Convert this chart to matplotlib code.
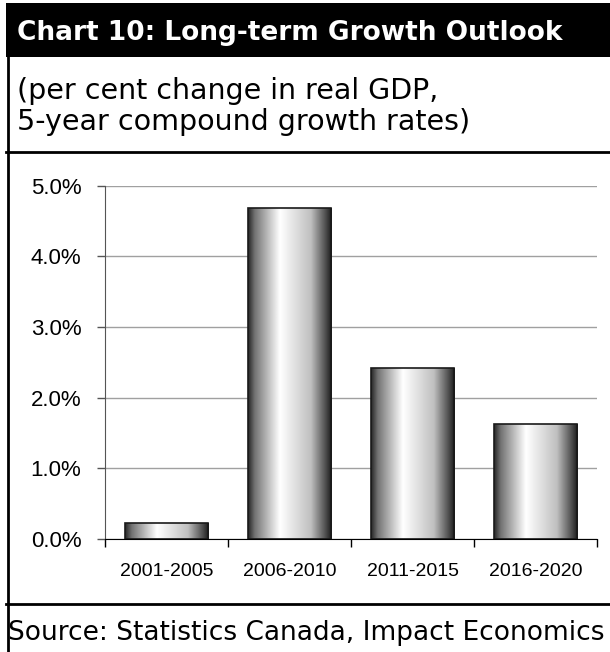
import numpy as np
import matplotlib.pyplot as plt
from matplotlib.lines import Line2D
from matplotlib.patches import Rectangle
from matplotlib.ticker import FuncFormatter

periods = ["2001-2005", "2006-2010", "2011-2015", "2016-2020"]
growth = [0.22, 4.69, 2.42, 1.63]  # per cent
yticks = [0, 1, 2, 3, 4, 5]

W, H = 610, 652
fig = plt.figure(figsize=(W / 100, H / 100), dpi=100)

def fx(px):
    return px / W

def fy(py):
    return 1 - py / H

# header band
fig.patches.append(Rectangle((fx(6), fy(57)), fx(610 - 6), 54 / H, transform=fig.transFigure,
                             facecolor="black", edgecolor="none"))
fig.text(fx(17), fy(30), "Chart 10: Long-term Growth Outlook", color="white",
         fontsize=19, fontweight="bold", family="DejaVu Sans", va="center_baseline", ha="left")

fig.text(fx(17), fy(88), "(per cent change in real GDP,", fontsize=20.5,
         family="DejaVu Sans", va="center_baseline", ha="left")
fig.text(fx(17), fy(119), "5-year compound growth rates)", fontsize=20.5,
         family="DejaVu Sans", va="center_baseline", ha="left")

# frame lines
for y in (152, 604):
    fig.lines.append(Line2D([fx(6), 1], [fy(y), fy(y)], transform=fig.transFigure,
                            color="black", lw=2))
fig.lines.append(Line2D([fx(7.5), fx(7.5)], [fy(56), 0], transform=fig.transFigure,
                        color="black", lw=2))

fig.text(fx(8), fy(630), "Source: Statistics Canada, Impact Economics",
         fontsize=19, family="DejaVu Sans", va="center_baseline", ha="left")

# chart axes
ax = fig.add_axes([fx(105), fy(539), fx(597 - 105), (539 - 185.7) / H])

# bar gradient: dark edges, bright highlight left of centre
pos = np.linspace(0, 1, 256)
shade = np.interp(pos, [0, 0.08, 0.38, 0.75, 0.93, 1], [0.15, 0.45, 1.0, 0.75, 0.3, 0.1])
grad = np.tile(shade, (2, 1))

bw = 0.68
bars = ax.bar(range(len(periods)), growth, width=bw, facecolor="none",
              edgecolor="#1a1a1a", linewidth=1.2, zorder=3)
for b, v in zip(bars, growth):
    x0 = b.get_x()
    im = ax.imshow(grad, cmap="gray", vmin=0, vmax=1, aspect="auto",
                   extent=[x0, x0 + bw, 0, v], zorder=2, interpolation="bilinear")
    im.set_clip_path(b)
ax.set_xlim(-0.5, len(periods) - 0.5)
ax.set_ylim(0, 5)

ax.set_yticks(yticks)
ax.yaxis.set_major_formatter(FuncFormatter(lambda v, p: f"{v:.1f}%"))
ax.set_xticks(range(len(periods)))
ax.set_xticklabels(periods)
ax.set_xticks(np.arange(-0.5, len(periods)), minor=True)
ax.tick_params(axis="x", which="major", length=0, pad=17, labelsize=14)
ax.tick_params(axis="x", which="minor", length=6, color="black", width=1)
ax.tick_params(axis="y", length=6, color="#555555", width=1, labelsize=16, pad=11)
for lab in ax.get_xticklabels() + ax.get_yticklabels():
    lab.set_family("Liberation Sans")

ax.grid(axis="y", color="#a0a0a0", lw=1, zorder=0)
ax.set_axisbelow(True)
for s in ("top", "right"):
    ax.spines[s].set_visible(False)
ax.spines["left"].set_color("#555555")
ax.spines["bottom"].set_color("black")
ax.spines["bottom"].set_zorder(4)

fig.savefig("out.png", dpi=100)
